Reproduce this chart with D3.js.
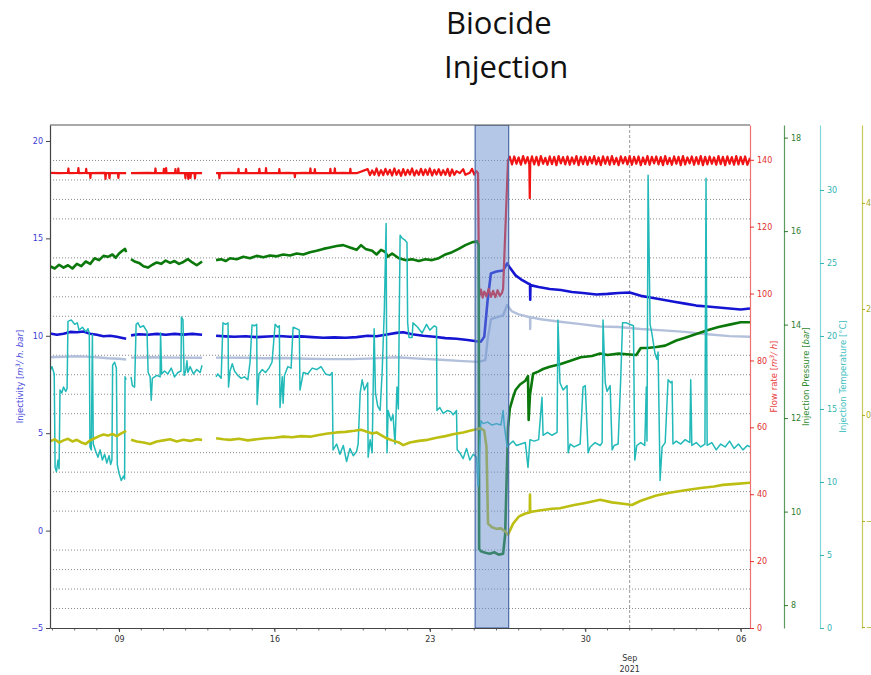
<!DOCTYPE html>
<html>
<head>
<meta charset="utf-8">
<script src="https://cdn.jsdelivr.net/npm/d3@7"></script>
<style>
body { margin: 0; background: #fff; }
svg text { font-family: "DejaVu Sans", sans-serif; }
.title { font-family: "Open Sans", sans-serif; font-size: 31px; fill: #111; }
</style>
</head>
<body>
<svg id="chart" width="871" height="675"></svg>
<script>
// time = day of August 2021 (Sep 1 = 32), value = null marks a logging gap
var injectivity = [[5.89,10.12],[6.2,10.05],[6.5,10.1],[6.8,10.2],[7.1,10.18],[7.4,10.22],[7.7,10.1],[8.0,10.05],[8.3,9.98],[8.6,10.0],[8.9,9.95],[9.1,9.9],[9.32,9.85],[9.4,null],
  [9.54,10.02],[9.9,10.08],[10.3,10.05],[10.7,10.1],[11.1,10.05],[11.5,10.1],[11.9,10.06],[12.3,10.1],[12.74,10.05],[13.0,null],
  [13.37,10.0],[13.8,9.97],[14.2,9.95],[14.7,9.98],[15.2,9.93],[15.7,9.96],[16.2,9.99],[16.7,9.95],[17.2,9.97],[17.7,9.93],[18.2,9.9],[18.7,9.92],[19.2,9.9],[19.7,9.93],[20.2,10.0],[20.6,9.98],[21.0,10.05],[21.5,10.15],[21.8,10.18],[22.2,10.08],[22.7,10.0],[23.2,9.95],[23.7,9.88],[24.2,9.85],[24.7,9.78],[25.1,9.72],[25.3,9.7],[25.45,9.95],[25.6,11.8],[25.75,13.2],[26.0,13.3],[26.3,13.35],[26.48,13.72],[26.6,13.5],[26.86,13.1],[27.1,12.9],[27.4,12.7],[27.51,12.65],[27.52,11.85],[27.53,12.6],[27.9,12.5],[28.4,12.4],[28.9,12.35],[29.4,12.25],[29.9,12.2],[30.5,12.12],[31.0,12.15],[31.5,12.2],[32.0,12.22],[32.5,12.05],[33.0,11.95],[33.5,11.85],[34.0,11.75],[34.5,11.65],[35.0,11.55],[35.5,11.5],[36.0,11.45],[36.5,11.4],[37.0,11.35],[37.42,11.4]];

var injectivity2 = [[5.89,8.9],[6.5,8.92],[7.0,8.95],[7.5,8.93],[8.0,8.9],[8.5,8.85],[9.0,8.82],[9.32,8.78],[9.4,null],
  [9.54,8.88],[10.5,8.9],[11.5,8.88],[12.74,8.87],[13.0,null],
  [13.37,8.88],[14.5,8.87],[15.5,8.85],[16.5,8.86],[17.5,8.82],[18.5,8.8],[19.5,8.8],[20.5,8.84],[21.5,8.9],[22.5,8.83],[23.5,8.77],[24.5,8.7],[25.2,8.66],[25.5,8.75],[25.6,9.8],[25.75,10.85],[26.0,10.95],[26.3,11.05],[26.48,11.58],[26.7,11.25],[27.0,11.1],[27.51,10.95],[27.52,10.35],[27.53,10.95],[28.0,10.85],[28.86,10.72],[29.8,10.6],[30.67,10.48],[31.5,10.45],[32.5,10.35],[33.5,10.28],[34.5,10.2],[35.5,10.08],[36.5,9.98],[37.42,9.95]];

var flowRate = [[5.89,136.1],[6.3,136.0],[6.7,136.1],[6.72,137.4],[6.74,136.0],[7.15,136.1],[7.17,137.5],[7.19,136.0],[7.5,136.1],[7.52,137.3],[7.54,136.0],[7.69,136.0],[7.71,134.6],[7.73,136.0],[8.37,136.1],[8.39,134.3],[8.41,136.0],[8.55,136.0],[8.57,134.5],[8.59,136.0],[8.95,136.0],[8.97,134.6],[8.99,136.0],[9.32,136.0],[9.4,null],
  [9.54,136.0],[10.3,136.1],[10.62,136.0],[10.64,137.4],[10.66,136.0],[11.0,136.0],[11.02,137.3],[11.04,136.0],[11.1,136.0],[11.12,137.5],[11.14,136.0],[11.52,136.0],[11.54,137.2],[11.56,136.0],[11.65,136.0],[11.67,137.4],[11.69,136.0],[11.97,136.0],[11.99,134.5],[12.01,136.0],[12.1,136.0],[12.12,134.3],[12.14,136.0],[12.2,136.0],[12.22,134.6],[12.24,136.0],[12.4,136.0],[12.42,134.4],[12.44,136.0],[12.74,136.0],[13.0,null],
  [13.37,136.0],[13.5,136.0],[13.52,134.5],[13.54,136.0],[14.0,136.1],[14.36,136.0],[14.38,137.3],[14.4,136.0],[14.7,136.0],[14.72,137.2],[14.74,136.0],[15.3,136.0],[15.32,137.3],[15.34,136.0],[15.6,136.0],[15.62,137.5],[15.64,136.0],[16.2,136.0],[16.22,137.2],[16.24,136.0],[16.6,136.1],[16.9,136.0],[16.92,134.8],[16.94,136.0],[17.4,136.1],[17.6,136.0],[17.62,137.4],[17.64,136.0],[17.8,136.0],[17.82,137.2],[17.84,136.0],[18.2,136.0],[18.5,136.0],[18.52,137.3],[18.54,136.0],[18.7,136.0],[18.72,137.4],[18.74,136.0],[19.1,136.1],[19.4,136.0],[19.42,137.3],[19.44,136.0],[19.7,136.0],
  [20.2,137.2],[20.3,135.4],[20.4,136.8],[20.5,135.5],[20.6,137.4],[20.7,135.3],[20.8,136.9],[20.9,135.4],[21.0,137.3],[21.1,135.6],[21.2,137.0],[21.3,135.3],[21.4,137.4],[21.5,135.5],[21.6,136.9],[21.7,135.2],[21.8,137.2],[21.9,135.4],[22.0,137.0],[22.1,135.6],[22.2,137.4],[22.3,135.3],[22.4,136.8],[22.5,135.5],[22.6,137.3],[22.7,135.4],[22.8,137.1],[22.9,135.5],[23.0,137.4],[23.1,135.3],[23.2,137.0],[23.3,135.6],[23.4,137.2],[23.5,135.4],[23.6,136.9],[23.7,135.5],[23.8,137.3],[23.9,135.2],[24.0,137.1],[24.1,135.5],[24.2,136.6],[24.35,136.0],[24.5,137.2],[24.6,135.5],[24.8,136.1],[24.9,137.3],[25.0,135.6],[25.1,136.6],[25.17,136.0],
  [25.22,99.0],[25.3,101.2],[25.38,98.8],[25.45,100.6],[25.55,99.2],[25.65,101.4],[25.75,99.0],[25.85,100.8],[25.95,98.9],[26.05,101.0],[26.15,99.3],[26.25,100.2],[26.3,101.5],[26.52,139.9],
  [26.6,140.9],[26.7,138.6],[26.8,141.0],[26.9,138.8],[27.0,140.7],[27.1,138.5],[27.2,141.1],[27.3,138.9],[27.4,140.8],[27.48,138.7],[27.5,128.5],[27.52,139.0],[27.6,141.0],[27.7,138.6],[27.8,140.9],[27.9,138.4],[28.0,141.1],[28.1,138.8],[28.2,140.6],[28.3,138.5],[28.4,141.0],[28.5,138.7],[28.6,140.9],[28.7,138.4],[28.8,141.1],[28.9,138.9],[29.0,140.8],[29.1,138.6],[29.2,141.0],[29.3,138.5],[29.4,140.7],[29.5,138.8],[29.6,141.1],[29.7,138.4],[29.8,140.9],[29.9,138.7],[30.0,141.0],[30.1,138.5],[30.2,140.8],[30.3,138.9],[30.4,141.1],[30.5,138.6],[30.6,140.7],[30.7,138.4],[30.8,141.0],[30.9,138.8],[31.0,140.9],[31.1,138.5],[31.2,141.1],[31.3,138.7],[31.4,140.6],[31.5,138.4],[31.6,141.0],[31.7,138.9],[31.8,140.8],[31.9,138.6],[32.0,141.1],[32.1,138.5],[32.2,140.9],[32.3,138.8],[32.4,141.0],[32.5,138.4],[32.6,140.7],[32.7,138.7],[32.8,141.1],[32.9,138.5],[33.0,140.9],[33.1,138.9],[33.2,141.0],[33.3,138.6],[33.4,140.8],[33.5,138.4],[33.6,141.1],[33.7,138.7],[33.8,140.6],[33.9,138.5],[34.0,141.0],[34.1,138.8],[34.2,140.9],[34.3,138.4],[34.4,141.1],[34.5,138.6],[34.6,140.7],[34.7,138.9],[34.8,141.0],[34.9,138.5],[35.0,140.8],[35.1,138.7],[35.2,141.1],[35.3,138.4],[35.4,140.9],[35.5,138.6],[35.6,141.0],[35.7,138.8],[35.8,140.7],[35.9,138.5],[36.0,141.1],[36.1,138.7],[36.2,140.9],[36.3,138.4],[36.4,141.0],[36.5,138.8],[36.6,140.8],[36.7,138.5],[36.8,141.1],[36.9,138.6],[37.0,140.9],[37.1,138.7],[37.2,141.0],[37.3,138.5],[37.42,140.6]];

var pressure = [[5.89,15.25],[6.1,15.2],[6.3,15.28],[6.5,15.22],[6.7,15.27],[6.9,15.2],[7.1,15.3],[7.3,15.25],[7.5,15.35],[7.7,15.3],[7.9,15.42],[8.1,15.38],[8.3,15.47],[8.5,15.45],[8.7,15.5],[8.85,15.43],[9.0,15.52],[9.15,15.58],[9.27,15.62],[9.32,15.55],[9.4,null],
  [9.54,15.4],[9.7,15.35],[9.9,15.32],[10.1,15.25],[10.3,15.22],[10.5,15.28],[10.7,15.33],[10.9,15.3],[11.1,15.37],[11.3,15.32],[11.5,15.36],[11.7,15.3],[11.9,15.34],[12.1,15.4],[12.3,15.33],[12.5,15.27],[12.74,15.35],[13.0,null],
  [13.37,15.38],[13.6,15.4],[13.8,15.36],[14.0,15.42],[14.3,15.4],[14.6,15.45],[14.9,15.42],[15.2,15.47],[15.5,15.44],[15.8,15.48],[16.1,15.46],[16.4,15.5],[16.7,15.48],[17.0,15.52],[17.3,15.5],[17.6,15.55],[17.9,15.58],[18.2,15.62],[18.5,15.65],[18.8,15.68],[19.1,15.7],[19.4,15.65],[19.7,15.6],[19.9,15.7],[20.1,15.62],[20.4,15.58],[20.6,15.5],[20.8,15.6],[21.0,15.55],[21.1,15.45],[21.3,15.52],[21.6,15.42],[21.9,15.38],[22.2,15.4],[22.5,15.36],[22.8,15.4],[23.1,15.38],[23.4,15.42],[23.7,15.5],[24.0,15.55],[24.3,15.62],[24.6,15.7],[24.9,15.76],[25.13,15.78],[25.2,15.7],
  [25.22,9.2],[25.3,9.15],[25.5,9.12],[25.7,9.1],[25.9,9.13],[26.1,9.08],[26.3,9.1],[26.39,9.5],[26.52,11.8],[26.6,12.2],[26.75,12.45],[26.86,12.6],[27.06,12.72],[27.3,12.8],[27.42,12.9],[27.45,11.96],[27.51,12.5],[27.65,12.95],[27.9,13.0],[28.1,13.05],[28.4,13.1],[28.86,13.15],[29.3,13.22],[29.8,13.3],[30.3,13.33],[30.67,13.38],[31.0,13.35],[31.5,13.38],[32.0,13.36],[32.3,13.35],[32.5,13.5],[32.8,13.5],[33.2,13.52],[33.6,13.55],[34.1,13.66],[34.5,13.72],[35.0,13.8],[35.5,13.88],[36.0,13.95],[36.5,14.0],[37.0,14.05],[37.42,14.05]];

var temperature = [[5.89,17.6],[5.98,17.9],[6.08,17.4],[6.12,11.0],[6.18,10.7],[6.25,11.5],[6.3,10.9],[6.34,16.3],[6.42,16.1],[6.5,16.5],[6.6,16.2],[6.66,16.4],[6.7,21.0],[6.85,21.1],[7.0,20.8],[7.12,20.9],[7.2,20.4],[7.35,20.6],[7.5,20.3],[7.6,20.5],[7.66,20.2],[7.69,12.4],[7.75,12.2],[7.8,20.1],[7.84,12.6],[7.95,12.1],[8.05,11.7],[8.15,12.2],[8.25,11.5],[8.35,11.9],[8.45,11.3],[8.55,11.8],[8.62,11.2],[8.68,11.5],[8.71,18.0],[8.8,18.2],[8.88,17.8],[8.92,11.2],[9.0,10.6],[9.1,10.1],[9.2,10.4],[9.25,10.2],[9.27,17.2],[9.32,17.0],[9.4,null],
  [9.54,17.2],[9.6,16.6],[9.7,16.5],[9.77,20.8],[9.85,20.9],[9.95,20.6],[10.1,20.7],[10.26,20.3],[10.31,17.5],[10.4,17.2],[10.45,15.6],[10.5,17.1],[10.7,17.3],[10.85,17.2],[10.87,20.2],[10.92,17.4],[11.05,17.6],[11.2,17.4],[11.35,17.8],[11.5,17.2],[11.65,17.5],[11.79,17.6],[11.81,21.3],[11.88,21.1],[11.93,17.3],[12.0,17.6],[12.06,18.3],[12.1,17.5],[12.2,17.9],[12.35,17.4],[12.5,17.7],[12.65,17.5],[12.74,18.0],[13.0,null],
  [13.37,17.2],[13.45,17.4],[13.6,17.1],[13.68,20.9],[13.8,20.8],[13.91,20.9],[13.93,16.5],[14.0,17.6],[14.1,18.1],[14.2,17.6],[14.35,17.3],[14.5,17.1],[14.65,17.2],[14.8,17.0],[14.9,18.2],[14.99,20.75],[15.1,20.7],[15.2,20.8],[15.22,15.3],[15.3,17.4],[15.45,17.7],[15.6,17.5],[15.75,17.8],[15.89,18.2],[16.03,20.8],[16.15,20.6],[16.22,20.7],[16.25,15.1],[16.35,17.2],[16.39,15.4],[16.45,17.3],[16.6,17.9],[16.75,17.8],[16.84,20.6],[17.0,20.5],[17.12,20.4],[17.15,16.3],[17.3,17.5],[17.5,17.4],[17.7,17.8],[17.9,17.7],[18.1,17.9],[18.3,17.4],[18.5,17.3],[18.6,17.5],[18.64,12.2],[18.8,12.6],[18.95,11.9],[19.1,12.5],[19.25,11.4],[19.4,12.3],[19.55,11.8],[19.7,12.1],[19.77,12.6],[19.86,16.1],[19.95,17.0],[20.05,16.3],[20.2,16.8],[20.22,11.7],[20.31,12.9],[20.4,12.0],[20.49,20.5],[20.55,16.1],[20.65,15.2],[20.76,14.9],[20.85,17.5],[20.95,21.8],[21.03,27.7],[21.07,12.0],[21.12,14.9],[21.25,14.2],[21.34,14.6],[21.43,12.6],[21.52,16.5],[21.58,15.0],[21.66,26.9],[21.75,26.7],[21.85,26.6],[21.97,26.4],[22.0,20.9],[22.06,19.9],[22.2,19.9],[22.24,20.9],[22.45,20.6],[22.65,20.2],[22.85,20.8],[23.0,20.4],[23.2,20.7],[23.3,20.6],[23.32,14.9],[23.45,15.1],[23.6,14.7],[23.8,14.9],[23.95,14.8],[24.05,14.6],[24.2,14.9],[24.23,12.2],[24.35,12.0],[24.5,11.6],[24.65,12.3],[24.8,11.5],[24.95,11.9],[25.1,11.7],[25.17,9.7],[25.3,14.2],[25.4,14.0],[25.6,14.1],[25.8,13.9],[26.0,14.0],[26.2,13.9],[26.3,14.9],[26.35,13.9],[26.48,12.4],
  [26.6,12.6],[26.75,12.8],[26.9,12.5],[27.1,12.6],[27.3,12.7],[27.42,11.0],[27.51,12.9],[27.7,12.8],[27.9,12.9],[28.05,15.8],[28.1,13.2],[28.3,13.4],[28.5,13.2],[28.73,13.4],[28.77,21.1],[28.86,16.8],[29.0,16.3],[29.18,16.6],[29.23,12.0],[29.32,12.6],[29.5,12.4],[29.77,12.6],[29.9,16.5],[30.0,16.6],[30.13,12.0],[30.22,12.4],[30.44,12.7],[30.67,12.5],[30.76,12.7],[30.8,21.1],[30.9,16.8],[30.98,16.2],[31.12,16.6],[31.21,12.2],[31.3,12.5],[31.48,12.6],[31.59,16.8],[31.68,20.9],[31.85,20.9],[32.0,20.8],[32.17,20.7],[32.23,11.5],[32.32,12.5],[32.5,12.7],[32.68,12.5],[32.75,16.5],[32.78,12.8],[32.83,31.0],[32.92,20.8],[33.0,20.2],[33.14,18.8],[33.23,18.4],[33.28,18.9],[33.37,10.1],[33.46,12.4],[33.6,12.7],[33.73,17.0],[33.85,16.8],[33.91,16.9],[33.95,12.6],[34.1,12.8],[34.3,12.6],[34.5,12.9],[34.71,12.7],[34.75,17.0],[34.8,12.5],[35.0,12.7],[35.2,12.4],[35.39,12.6],[35.44,30.8],[35.49,12.5],[35.7,12.7],[35.9,12.2],[36.1,12.6],[36.3,12.4],[36.5,12.8],[36.7,12.3],[36.9,12.6],[37.1,12.2],[37.3,12.5],[37.42,12.4]];

var fourthSeries = [[5.89,-0.5],[6.1,-0.46],[6.3,-0.52],[6.5,-0.48],[6.7,-0.45],[6.9,-0.5],[7.1,-0.47],[7.3,-0.52],[7.5,-0.55],[7.7,-0.48],[7.9,-0.44],[8.1,-0.4],[8.3,-0.37],[8.5,-0.39],[8.7,-0.36],[8.9,-0.4],[9.1,-0.35],[9.32,-0.3],[9.4,null],
  [9.54,-0.47],[9.8,-0.5],[10.1,-0.52],[10.4,-0.55],[10.7,-0.5],[11.0,-0.48],[11.3,-0.46],[11.6,-0.5],[11.9,-0.47],[12.2,-0.49],[12.5,-0.46],[12.74,-0.47],[13.0,null],
  [13.37,-0.44],[13.7,-0.46],[14.0,-0.47],[14.4,-0.45],[14.8,-0.48],[15.2,-0.46],[15.6,-0.44],[16.0,-0.43],[16.4,-0.41],[16.8,-0.42],[17.2,-0.4],[17.6,-0.41],[18.0,-0.38],[18.4,-0.35],[18.8,-0.33],[19.2,-0.32],[19.6,-0.3],[19.9,-0.28],[20.2,-0.32],[20.4,-0.35],[20.6,-0.33],[20.8,-0.38],[21.0,-0.43],[21.3,-0.48],[21.6,-0.52],[21.8,-0.57],[22.1,-0.52],[22.5,-0.49],[22.9,-0.47],[23.3,-0.43],[23.7,-0.4],[24.1,-0.36],[24.5,-0.33],[24.8,-0.3],[25.1,-0.27],[25.3,-0.25],[25.45,-0.3],[25.55,-0.6],[25.62,-2.05],[25.8,-2.12],[26.0,-2.15],[26.2,-2.14],[26.4,-2.2],[26.52,-2.26],[26.75,-2.05],[27.0,-1.92],[27.3,-1.86],[27.5,-1.84],[27.51,-1.5],[27.52,-1.83],[28.0,-1.8],[28.5,-1.77],[28.86,-1.76],[29.5,-1.7],[30.0,-1.66],[30.67,-1.6],[31.2,-1.65],[31.8,-1.68],[32.1,-1.7],[32.5,-1.62],[33.2,-1.52],[33.8,-1.47],[34.5,-1.42],[35.2,-1.38],[35.8,-1.35],[36.2,-1.32],[36.8,-1.3],[37.42,-1.28]];

var biocideSpan = [25.04, 26.55];
var leftTicks = [-5, 0, 5, 10, 15, 20];
var flowTicks = [0, 20, 40, 60, 80, 100, 120, 140];
var pressureTicks = [8, 10, 12, 14, 16, 18];
var tempTicks = [0, 5, 10, 15, 20, 25, 30];
var fourthTicks = [-4, -2, 0, 2, 4];

var L = 50, R = 750, T = 125, B = 628;
var svg = d3.select('#chart');

function toDate(d) { return new Date(Date.UTC(2021, 7, 1) + (d - 1) * 864e5); }

var x = d3.scaleUtc().domain([toDate(5.89), toDate(37.42)]).range([L, R]);
var yLeft = d3.scaleLinear().domain([-5, 20.82]).range([B, T]);
var yFlow = d3.scaleLinear().domain([0, 150.4]).range([B, T]);
var yPress = d3.scaleLinear().domain([7.51, 18.27]).range([B, T]);
var yTemp = d3.scaleLinear().domain([0, 34.45]).range([B, T]);
var yFourth = d3.scaleLinear().domain([-4.02, 5.47]).range([B, T]);

// title
svg.append('text').attr('class', 'title').attr('x', 446).attr('y', 34).text('Biocide');
svg.append('text').attr('class', 'title').attr('x', 444).attr('y', 78).text('Injection');

svg.append('defs').append('clipPath').attr('id', 'plotclip')
  .append('rect').attr('x', L).attr('y', T).attr('width', R - L).attr('height', B - T);

// dotted grid on the minor injectivity steps
var gridVals = d3.range(-4, 21).filter(function(v) { return v % 5 !== 0; });
svg.append('g').selectAll('line').data(gridVals).enter().append('line')
  .attr('x1', L).attr('x2', R)
  .attr('y1', function(d) { return yLeft(d); }).attr('y2', function(d) { return yLeft(d); })
  .attr('stroke', '#8a8a8a').attr('stroke-width', 1).attr('stroke-dasharray', '1,2');

// month boundary
svg.append('line').attr('x1', x(toDate(32))).attr('x2', x(toDate(32)))
  .attr('y1', T).attr('y2', B)
  .attr('stroke', '#999').attr('stroke-width', 1).attr('stroke-dasharray', '3,2');

var plot = svg.append('g').attr('clip-path', 'url(#plotclip)');

function drawSeries(data, yScale, color, width) {
  var line = d3.line()
    .defined(function(d) { return d[1] !== null; })
    .x(function(d) { return x(toDate(d[0])); })
    .y(function(d) { return yScale(d[1]); });
  plot.append('path').datum(data)
    .attr('d', line).attr('fill', 'none')
    .attr('stroke', color).attr('stroke-width', width)
    .attr('stroke-linejoin', 'round');
}

drawSeries(injectivity, yLeft, '#1414d2', 2.6);
drawSeries(injectivity2, yLeft, '#b3c0db', 2.4);
drawSeries(flowRate, yFlow, '#f01414', 2.2);
drawSeries(pressure, yPress, '#0b780b', 2.6);
drawSeries(temperature, yTemp, '#22b9b9', 1.5);
drawSeries(fourthSeries, yFourth, '#bcbf12', 2.6);

// biocide injection window
plot.append('rect')
  .attr('x', x(toDate(biocideSpan[0]))).attr('y', T)
  .attr('width', x(toDate(biocideSpan[1])) - x(toDate(biocideSpan[0])))
  .attr('height', B - T)
  .attr('fill', '#6a8fd0').attr('fill-opacity', 0.5)
  .attr('stroke', '#4a6aa8').attr('stroke-width', 1.2);

// frame
svg.append('line').attr('x1', L).attr('x2', R).attr('y1', T).attr('y2', T).attr('stroke', '#555').attr('stroke-width', 1.2);

function styleAxis(g, color, spine, labelColor) {
  g.selectAll('text').attr('fill', labelColor || color).style('font-size', '8px');
  g.selectAll('.tick line').attr('stroke', color);
  g.select('.domain').attr('stroke', spine || color).attr('stroke-width', 1.2);
}

// bottom time axis
var xAxis = svg.append('g').attr('transform', 'translate(0,' + B + ')')
  .call(d3.axisBottom(x).ticks(d3.utcMonday.every(1)).tickFormat(d3.utcFormat('%d')).tickSize(4).tickSizeOuter(0));
styleAxis(xAxis, '#444', '#444', '#333');
xAxis.selectAll('text').attr('dy', '0.85em');
svg.append('g').attr('transform', 'translate(0,' + B + ')').selectAll('line')
  .data(x.ticks(d3.utcDay.every(1))).enter().append('line')
  .attr('x1', function(d) { return x(d); }).attr('x2', function(d) { return x(d); })
  .attr('y1', 0).attr('y2', 2.5).attr('stroke', '#444').attr('stroke-width', 0.8);
svg.append('text').attr('x', x(toDate(32))).attr('y', 661).attr('text-anchor', 'middle')
  .attr('fill', '#333').style('font-size', '8px').text('Sep');
svg.append('text').attr('x', x(toDate(32))).attr('y', 672).attr('text-anchor', 'middle')
  .attr('fill', '#333').style('font-size', '8px').text('2021');

// left axis
var leftAxis = svg.append('g').attr('transform', 'translate(' + L + ',0)')
  .call(d3.axisLeft(yLeft).tickValues(leftTicks).tickSize(4).tickSizeOuter(0));
styleAxis(leftAxis, '#444', '#444', '#3b3bd6');

var flowAxis = svg.append('g').attr('transform', 'translate(' + R + ',0)')
  .call(d3.axisRight(yFlow).tickValues(flowTicks).tickSize(4).tickSizeOuter(0));
styleAxis(flowAxis, '#e83030', '#f07070', '#e03030');

var pressAxis = svg.append('g').attr('transform', 'translate(784,0)')
  .call(d3.axisRight(yPress).tickValues(pressureTicks).tickSize(4).tickSizeOuter(0));
styleAxis(pressAxis, '#2f7d2f', '#5e9a5e', '#2f7d2f');

var tempAxis = svg.append('g').attr('transform', 'translate(820,0)')
  .call(d3.axisRight(yTemp).tickValues(tempTicks).tickSize(4).tickSizeOuter(0));
styleAxis(tempAxis, '#33b3b3', '#80d6d6', '#33b3b3');

// fourth axis sits at the picture's right edge, its labels run off it as in the source
var fourthAxis = svg.append('g').attr('transform', 'translate(862,0)')
  .call(d3.axisRight(yFourth).tickValues(fourthTicks).tickSize(3).tickSizeOuter(0));
styleAxis(fourthAxis, '#a9ab20', '#c8c860', '#a9ab20');
fourthAxis.selectAll('text').attr('x', 4);

// axis titles
function axisTitle(xPos, color, plain, italic, tail) {
  var t = svg.append('text')
    .attr('transform', 'translate(' + xPos + ',' + ((T + B) / 2) + ') rotate(-90)')
    .attr('text-anchor', 'middle').attr('fill', color).style('font-size', '8.5px');
  t.append('tspan').text(plain);
  italic.forEach(function(part) {
    var s = t.append('tspan').style('font-style', 'italic').text(part[0]);
    if (part[1]) s.attr('baseline-shift', part[1]).style('font-size', '6px');
  });
  t.append('tspan').text(tail);
}
axisTitle(23, '#4848dc', 'Injectivity [', [['m'], ['3', 'super'], ['/ h. bar']], ']');
axisTitle(777, '#e84040', 'Flow rate [', [['m'], ['3', 'super'], ['/ h']], ']');
axisTitle(809, '#2f8a2f', 'Injection Pressure [', [['bar']], ']');
axisTitle(846, '#40c0c0', 'Injection Temperature [°C]', [], '');
</script>
</body>
</html>
